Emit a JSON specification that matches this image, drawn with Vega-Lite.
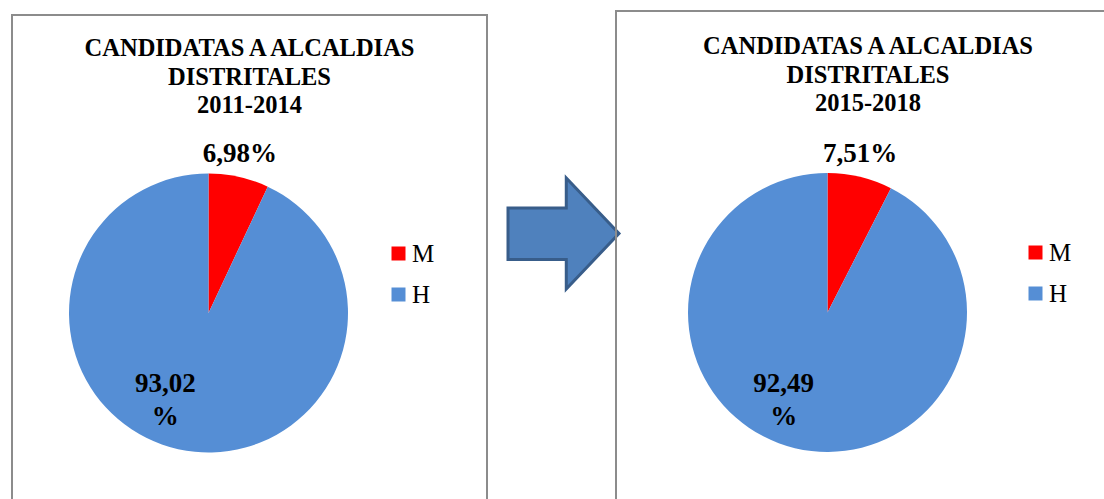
{
  "$schema": "https://vega.github.io/schema/vega-lite/v6.json",
  "background": "white",
  "padding": {"left": 11, "top": 10, "right": 0, "bottom": 0},
  "spacing": 0,
  "bounds": "flush",
  "center": true,
  "config": {
    "view": {"stroke": "#8c8c8c", "strokeWidth": 2},
    "text": {"font": "Liberation Serif", "color": "#000000"}
  },
  "resolve": {"scale": {"color": "independent", "theta": "independent"}, "legend": {"color": "independent"}},
  "hconcat": [
    {
      "width": 475,
      "height": 520,
      "view": {"stroke": "#8c8c8c", "strokeWidth": 2},
      "data": {"values": [
        {"sexo": "M", "pct": 6.98, "label": "6,98%"},
        {"sexo": "H", "pct": 93.02, "label": "93,02 %"}
      ]},
      "layer": [
        {
          "mark": {"type": "arc", "outerRadius": 139.5, "x": 196.5, "y": 298},
          "encoding": {
            "theta": {"field": "pct", "type": "quantitative", "stack": true},
            "order": {"field": "sexo", "sort": "descending"},
            "color": {
              "field": "sexo", "type": "nominal",
              "scale": {"domain": ["M", "H"], "range": ["#FF0000", "#558ED5"]},
              "legend": {"orient": "none", "legendX": 374, "legendY": 226, "title": null, "symbolType": "square", "symbolSize": 196, "symbolStrokeWidth": 0, "labelFont": "Liberation Serif", "labelFontSize": 25, "labelColor": "#000000", "rowPadding": 15, "labelOffset": 1, "padding": 0}
            }
          }
        },
        {
          "mark": {"type": "text", "radius": 163, "x": 196.5, "y": 298, "dx": -4, "fontWeight": "bold", "fontSize": 27, "baseline": "middle"},
          "encoding": {
            "theta": {"field": "pct", "type": "quantitative", "stack": true},
            "order": {"field": "sexo", "sort": "descending"},
            "text": {"condition": {"test": "datum.sexo === 'M'", "field": "label"}, "value": ""}
          }
        },
        {
          "mark": {"type": "text", "radius": 88, "x": 196.5, "y": 298, "dx": -24, "dy": -15, "fontWeight": "bold", "fontSize": 27, "baseline": "middle", "lineBreak": " ", "lineHeight": 33},
          "encoding": {
            "theta": {"field": "pct", "type": "quantitative", "stack": true},
            "order": {"field": "sexo", "sort": "descending"},
            "text": {"condition": {"test": "datum.sexo === 'H'", "field": "label"}, "value": ""}
          }
        },
        {
          "data": {"values": [{}]},
          "mark": {"type": "text", "text": ["CANDIDATAS A ALCALDIAS", "DISTRITALES", "2011-2014"], "x": 237.5, "y": 41, "baseline": "alphabetic", "align": "center", "fontWeight": "bold", "fontSize": 24.5, "lineHeight": 28.5},
          "encoding": {}
        }
      ]
    },
    {
      "width": 129,
      "height": 528,
      "view": {"stroke": null},
      "data": {"values": [{}]},
      "mark": {"type": "point", "shape": "M -1 -0.46 L 0.05 -0.46 L 0.05 -1 L 1 0 L 0.05 1 L 0.05 0.47 L -1 0.47 Z", "size": 12321, "filled": true, "fill": "#4F81BD", "stroke": "#385D8A", "strokeWidth": 3, "opacity": 1, "x": 76.5, "y": 222.5},
      "encoding": {}
    },
    {
      "width": 504,
      "height": 528,
      "view": {"stroke": "#8c8c8c", "strokeWidth": 2},
      "data": {"values": [
        {"sexo": "M", "pct": 7.51, "label": "7,51%"},
        {"sexo": "H", "pct": 92.49, "label": "92,49 %"}
      ]},
      "layer": [
        {
          "mark": {"type": "arc", "outerRadius": 139.5, "x": 211.5, "y": 301.5},
          "encoding": {
            "theta": {"field": "pct", "type": "quantitative", "stack": true},
            "order": {"field": "sexo", "sort": "descending"},
            "color": {
              "field": "sexo", "type": "nominal",
              "scale": {"domain": ["M", "H"], "range": ["#FF0000", "#558ED5"]},
              "legend": {"orient": "none", "legendX": 407, "legendY": 229, "title": null, "symbolType": "square", "symbolSize": 196, "symbolStrokeWidth": 0, "labelFont": "Liberation Serif", "labelFontSize": 25, "labelColor": "#000000", "rowPadding": 15, "labelOffset": 1, "padding": 0}
            }
          }
        },
        {
          "mark": {"type": "text", "radius": 163, "x": 211.5, "y": 301.5, "dx": -5.5, "fontWeight": "bold", "fontSize": 27, "baseline": "middle"},
          "encoding": {
            "theta": {"field": "pct", "type": "quantitative", "stack": true},
            "order": {"field": "sexo", "sort": "descending"},
            "text": {"condition": {"test": "datum.sexo === 'M'", "field": "label"}, "value": ""}
          }
        },
        {
          "mark": {"type": "text", "radius": 89, "x": 211.5, "y": 301.5, "dx": -23, "dy": -15, "fontWeight": "bold", "fontSize": 27, "baseline": "middle", "lineBreak": " ", "lineHeight": 33},
          "encoding": {
            "theta": {"field": "pct", "type": "quantitative", "stack": true},
            "order": {"field": "sexo", "sort": "descending"},
            "text": {"condition": {"test": "datum.sexo === 'H'", "field": "label"}, "value": ""}
          }
        },
        {
          "data": {"values": [{}]},
          "mark": {"type": "text", "text": ["CANDIDATAS A ALCALDIAS", "DISTRITALES", "2015-2018"], "x": 252, "y": 43, "baseline": "alphabetic", "align": "center", "fontWeight": "bold", "fontSize": 24.5, "lineHeight": 28.5},
          "encoding": {}
        }
      ]
    }
  ]
}
